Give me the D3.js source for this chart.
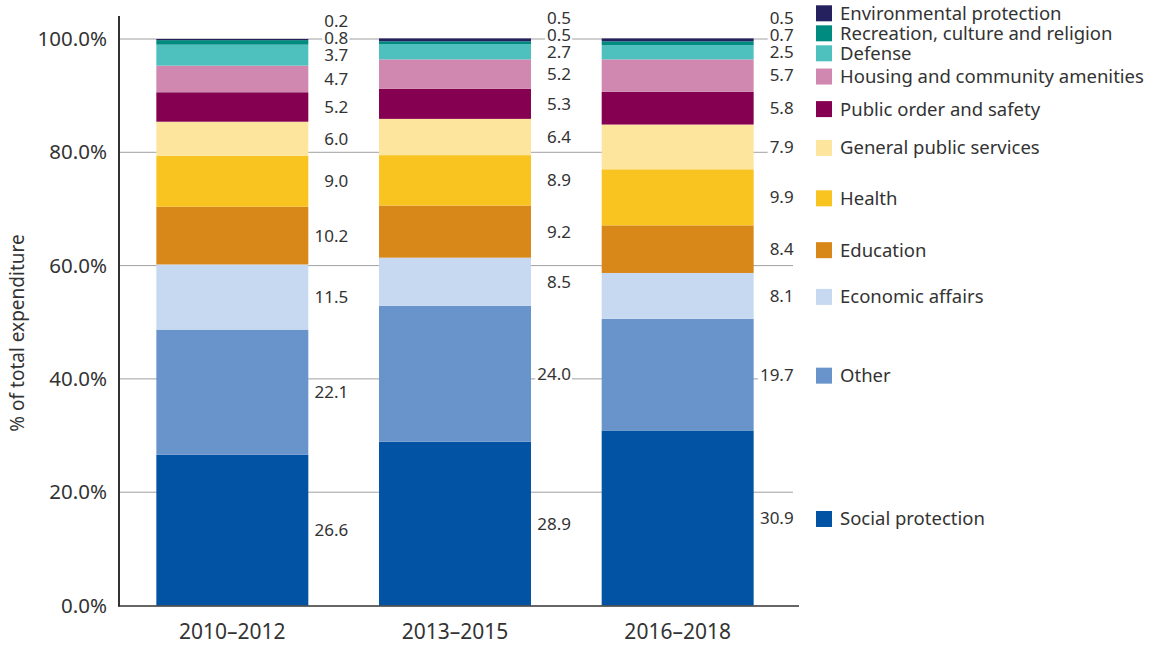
<!DOCTYPE html>
<html>
<head>
<meta charset="utf-8">
<script src="https://cdn.jsdelivr.net/npm/d3@7"></script>
<style>
  html, body { margin: 0; padding: 0; background: #fff; }
  svg { display: block; font-family: "Noto Sans", "Open Sans", sans-serif; }
</style>
</head>
<body>
<svg id="chart" width="1151" height="646"></svg>
<script>
// ---- Data ----
const periods = ["2010–2012", "2013–2015", "2016–2018"];
const categories = [
  "Social protection", "Other", "Economic affairs", "Education", "Health",
  "General public services", "Public order and safety",
  "Housing and community amenities", "Defense",
  "Recreation, culture and religion", "Environmental protection"
];
const socialProtection = [26.6, 28.9, 30.9];
const other            = [22.1, 24.0, 19.7];
const economicAffairs  = [11.5, 8.5, 8.1];
const education        = [10.2, 9.2, 8.4];
const health           = [9.0, 8.9, 9.9];
const generalPublic    = [6.0, 6.4, 7.9];
const publicOrder      = [5.2, 5.3, 5.8];
const housing          = [4.7, 5.2, 5.7];
const defense          = [3.7, 2.7, 2.5];
const recreation       = [0.8, 0.5, 0.7];
const environmental    = [0.2, 0.5, 0.5];
const yTicks = [0, 20, 40, 60, 80, 100];
const colors = ["#0253a4", "#6893cb", "#c6d9f1", "#d88818", "#f9c320",
                "#fee59e", "#850050", "#d088b0", "#4ec0bd", "#008b80", "#25215e"];

const seriesValues = [socialProtection, other, economicAffairs, education, health,
  generalPublic, publicOrder, housing, defense, recreation, environmental];

const table = periods.map((p, i) => {
  const row = { period: p };
  categories.forEach((c, k) => row[c] = seriesValues[k][i]);
  return row;
});

// ---- Layout ----
const svg = d3.select("#chart");
const textColor = "#333";
const x = d3.scaleBand().domain(periods).range([121, 789])
  .paddingInner(0.3175).paddingOuter(0.15875);
const y = d3.scaleLinear().domain([0, 100]).range([605.5, 39]);
const color = d3.scaleOrdinal().domain(categories).range(colors);

const stacked = d3.stack().keys(categories)(table);

// Gridlines
svg.append("g").selectAll("line").data(yTicks.filter(d => d > 0)).join("line")
  .attr("x1", 120).attr("x2", 793)
  .attr("y1", d => y(d)).attr("y2", d => y(d))
  .attr("stroke", "#a0a0a0").attr("stroke-width", 1);

// Bars
svg.append("g").selectAll("g").data(stacked).join("g")
  .attr("fill", d => color(d.key))
  .selectAll("rect").data(d => d).join("rect")
  .attr("x", d => x(d.data.period))
  .attr("width", x.bandwidth())
  .attr("y", d => y(d[1]))
  .attr("height", d => y(d[0]) - y(d[1]));

// Value labels with collision avoidance
const labelGap = 17;
const labelLayer = svg.append("g");
periods.forEach((p, i) => {
  let prev = Infinity;
  stacked.forEach(s => {
    const seg = s[i];
    const mid = y((seg[0] + seg[1]) / 2);
    const ly = Math.min(mid, prev - labelGap);
    prev = ly;
    const gEl = labelLayer.append("g");
    const t = gEl.append("text")
      .attr("x", x(p) + x.bandwidth() + 40)
      .attr("y", ly).attr("dy", "0.35em")
      .attr("text-anchor", "end")
      .attr("font-size", 17).attr("fill", textColor)
      .text(d3.format(".1f")(seg.data[s.key]));
    const bb = t.node().getBBox();
    gEl.insert("rect", "text")
      .attr("x", bb.x - 2).attr("y", bb.y + 3)
      .attr("width", bb.width + 3).attr("height", bb.height - 6)
      .attr("fill", "#fff");
  });
});

// Y axis
const yAxis = d3.axisLeft(y).tickValues(yTicks)
  .tickFormat(d => d3.format(".1f")(d) + "%").tickSize(0).tickPadding(12);
const yg = svg.append("g").attr("transform", "translate(119,0)").call(yAxis);
yg.select(".domain").remove();
yg.selectAll("text").attr("font-size", 20.5).attr("fill", textColor)
  .attr("font-family", "Noto Sans, sans-serif");
svg.append("line").attr("x1", 119).attr("x2", 119).attr("y1", 16).attr("y2", 606.5)
  .attr("stroke", "#333").attr("stroke-width", 2);

// X axis
const xAxis = d3.axisBottom(x).tickSize(0).tickPadding(18);
const xg = svg.append("g").attr("transform", "translate(0,606)").call(xAxis);
xg.select(".domain").remove();
xg.selectAll("text").attr("font-size", 21).attr("fill", textColor)
  .attr("font-family", "Noto Sans, sans-serif");
svg.append("line").attr("x1", 118).attr("x2", 799).attr("y1", 606).attr("y2", 606)
  .attr("stroke", "#333").attr("stroke-width", 1.5);

// Y axis title
svg.append("text")
  .attr("transform", "translate(24,333) rotate(-90)")
  .attr("text-anchor", "middle")
  .attr("font-size", 19).attr("fill", textColor)
  .text("% of total expenditure");

// Legend positioned at last column segments
const legendGap = 20;
const last = periods.length - 1;
let prevL = Infinity;
const legend = svg.append("g");
stacked.forEach(s => {
  const seg = s[last];
  const mid = y((seg[0] + seg[1]) / 2) + 1;
  const ly = Math.min(mid, prevL - legendGap);
  prevL = ly;
  legend.append("rect").attr("x", 816).attr("y", ly - 8)
    .attr("width", 16).attr("height", 16).attr("fill", color(s.key));
  legend.append("text").attr("x", 840).attr("y", ly).attr("dy", "0.35em")
    .attr("font-size", 18.5).attr("fill", textColor).text(s.key);
});
</script>
</body>
</html>
